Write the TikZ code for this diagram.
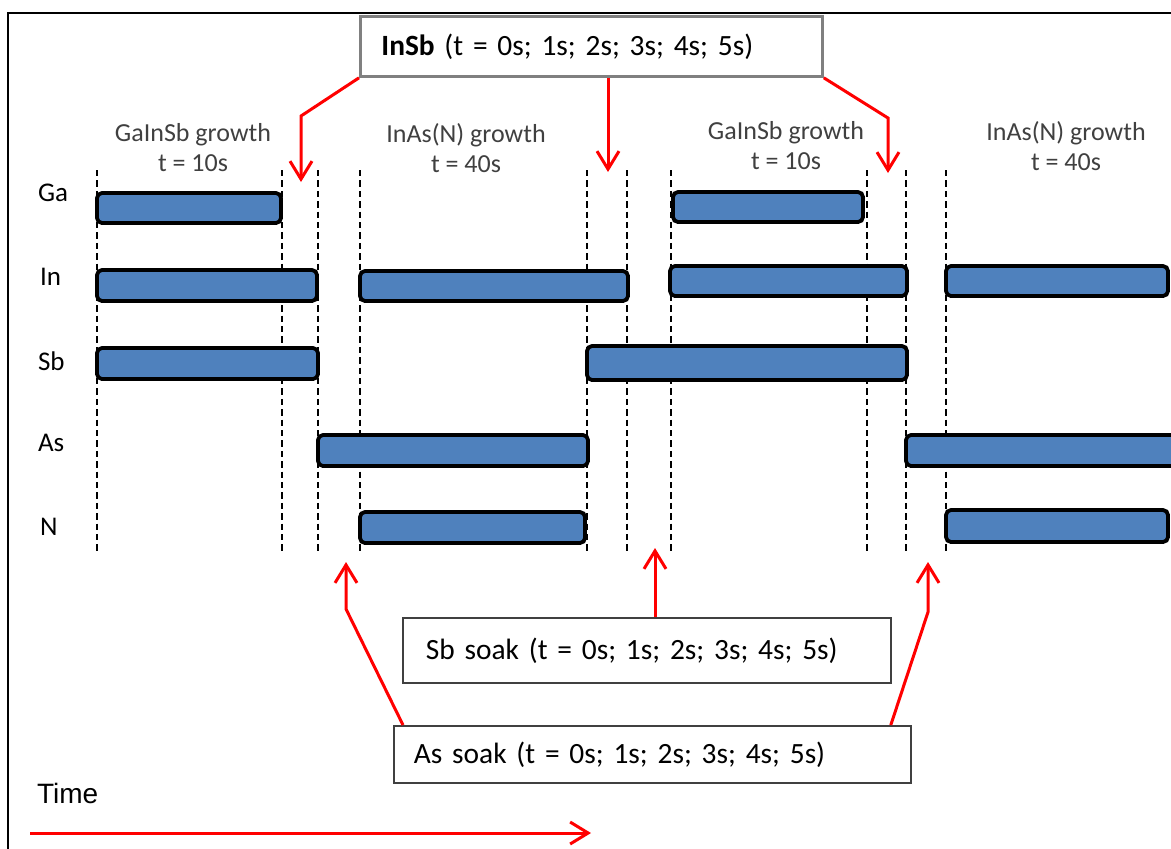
\documentclass[tikz,border=0pt]{standalone}
\usepackage{fontspec}
\setmainfont{Carlito}
\newfontfamily\timefont{Liberation Sans}
\usepackage{xcolor}
\usetikzlibrary{arrows.meta,positioning}
\definecolor{barblue}{HTML}{4F81BD}
\definecolor{red2}{HTML}{FF0000}
\definecolor{ink}{HTML}{404040}

\begin{document}
\begin{tikzpicture}[x=0.5pt,y=-0.5pt,
          every node/.style={font=\fontsize{13}{15}\selectfont,text=ink},
          box/.style={draw=#1,anchor=north west,align=left,inner ysep=0pt,
                      font=\fontsize{14.7}{18}\selectfont,text=black},
          bar/.style={draw=black,fill=barblue,line width=1.9pt,rounded corners=2.5pt},
          guide/.style={draw=black,line width=1.1pt,dash pattern=on 3.2pt off 2pt},
          arr/.style={-{Straight Barb[length=9pt,width=11pt]},draw=red2,line width=1.5pt},
          lbl/.style={align=center},
      ]
        \useasboundingbox (0,0) rectangle (1171,848);
        \draw[line width=1pt] (8,860) -- (8,13) -- (1180,13);

        % species rows
        \node[anchor=west,text=black,font=\fontsize{13.5}{15}\selectfont] (ga) at (31,193) {Ga};
        \node[anchor=west,text=black,font=\fontsize{13.5}{15}\selectfont] (in) at (33,277) {In};
        \node[anchor=west,text=black,font=\fontsize{13.5}{15}\selectfont] (sb) at (31,361) {Sb};
        \node[anchor=west,text=black,font=\fontsize{13.5}{15}\selectfont] (as) at (31,443) {As};
        \node[anchor=west,text=black,font=\fontsize{13.5}{15}\selectfont] (n)  at (33,527) {N};

        % growth steps
        \node[lbl] (g1) at (193,148) {GaInSb growth\\t = 10s};
        \node[lbl] (g2) at (466,148) {InAs(N) growth\\t = 40s};
        \node[lbl] (g3) at (786,146) {GaInSb growth\\t = 10s};
        \node[lbl] (g4) at (1066,146) {InAs(N) growth\\t = 40s};

        \foreach \x in {97,282,318,360,587,627,671,867,906,946}
          \draw[guide] (\x,170) -- (\x,552);

        % shutter openings
        \draw[bar] (97,193) rectangle (281,223);
        \draw[bar] (673,192) rectangle (863,222);
        \draw[bar] (97,270) rectangle (317,301);
        \draw[bar] (360,271) rectangle (628,301);
        \draw[bar] (670,266) rectangle (907,296);
        \draw[bar] (946,266) rectangle (1168,296);
        \draw[bar] (97,348) rectangle (318,379);
        \draw[bar] (587,346) rectangle (907,380);
        \draw[bar] (318,435) rectangle (588,466);
        \draw[bar] (906,435) rectangle (1190,466);
        \draw[bar] (360,512) rectangle (585,543);
        \draw[bar] (946,510) rectangle (1168,542);

        % interruptions
        \node[box=gray,line width=1.4pt,minimum height=30pt,
              text width=210pt,inner xsep=10.5pt] (insb) at (359,15)
          {\textbf{InSb} (t = 0s; 1s; 2s; 3s; 4s; 5s)};
        \node[box=ink,line width=0.9pt,minimum height=32.5pt,
              text width=221pt,inner xsep=11.5pt] (sbsoak) at (402,617)
          {Sb soak (t = 0s; 1s; 2s; 3s; 4s; 5s)};
        \node[box=ink,line width=0.9pt,minimum height=28.5pt,
              text width=238.5pt,inner xsep=10pt] (assoak) at (393,725)
          {As soak (t = 0s; 1s; 2s; 3s; 4s; 5s)};

        \coordinate (ta) at (301,182);
        \coordinate (tb) at (608,172);
        \coordinate (tc) at (888,173);
        \coordinate (td) at (346,562);
        \coordinate (te) at (928,562);
        \coordinate (tf) at (655,548);

        \draw[arr] (insb.south west) -- (301,116) -- (ta);
        \draw[arr] (insb.south -| tb) -- (tb);
        \draw[arr] (insb.south east) -- (888,118) -- (tc);
        \draw[arr] (sbsoak.north -| tf) -- (tf);
        \draw[arr] ([xshift=5pt]assoak.north west) -- (346,609) -- (td);
        \draw[arr] ([xshift=-10.5pt]assoak.north east) -- (928,612) -- (te);

        % time axis
        \node[anchor=west,font=\timefont\fontsize{14}{16}\selectfont,text=black] (time) at (30,793) {Time};
        \coordinate (t0) at (30,833);
        \coordinate (t1) at (591,833);
        \draw[arr] (t0) -- (t1);
      \end{tikzpicture}
\end{document}
